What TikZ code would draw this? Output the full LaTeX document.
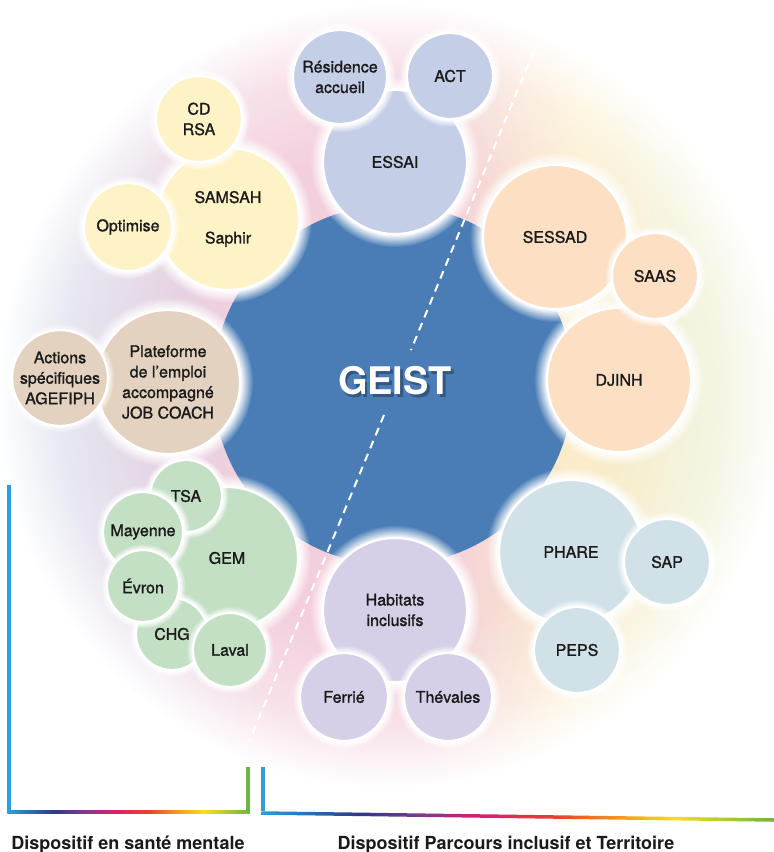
\documentclass[tikz,border=0pt]{standalone}
\usepackage{fontspec}
\setmainfont{TeX Gyre Heros}
\newfontfamily\bubblefont[FakeBold=1.2]{TeX Gyre Heros}
\usetikzlibrary{fadings}

\definecolor{geistblue}{HTML}{4A7DB6}
\definecolor{essaicol}{HTML}{C5CEE7}
\definecolor{samsahcol}{HTML}{FEF3C6}
\definecolor{emploicol}{HTML}{E3D2BF}
\definecolor{gemcol}{HTML}{C3E0C5}
\definecolor{habitatcol}{HTML}{D5CFE7}
\definecolor{sessadcol}{HTML}{FDDFC3}
\definecolor{pharecol}{HTML}{D0E1E8}
\definecolor{inkcol}{HTML}{1A1A1A}
\definecolor{hazeblue}{HTML}{CEDBEC}
\definecolor{hazepink}{HTML}{F3CEDC}
\definecolor{hazeyellow}{HTML}{FBEDC8}
\definecolor{hazegreen}{HTML}{E6EFD4}
\definecolor{barblue}{HTML}{2AA0DC}
\definecolor{barnavy}{HTML}{2E3A87}
\definecolor{barpurple}{HTML}{7B3A8C}
\definecolor{barmagenta}{HTML}{E31B6D}
\definecolor{barred}{HTML}{E8412C}
\definecolor{barorange}{HTML}{F4A21C}
\definecolor{baryellow}{HTML}{F6DF16}
\definecolor{bargreen}{HTML}{6CB446}

\pgfdeclarehorizontalshading{haze}{100bp}{color(0bp)=(hazeblue); color(25bp)=(hazeblue);
  color(42bp)=(hazepink); color(53bp)=(hazepink); color(62bp)=(hazeyellow);
  color(75bp)=(hazegreen); color(100bp)=(hazegreen)}
\pgfdeclareradialshading{hazefade}{\pgfpointorigin}{color(0bp)=(white); color(15bp)=(white);
  color(21bp)=(black!40); color(25bp)=(black); color(50bp)=(black)}
\pgfdeclarefading{hazefade}{\pgfuseshading{hazefade}}
\pgfdeclarehorizontalshading{rainbowbar}{100bp}{color(0bp)=(barblue); color(25bp)=(barblue);
  color(34.5bp)=(barnavy); color(40.5bp)=(barpurple); color(47bp)=(barmagenta);
  color(54bp)=(barred); color(60.5bp)=(barorange); color(65.5bp)=(baryellow);
  color(75bp)=(bargreen); color(100bp)=(bargreen)}

\tikzset{
  bubble/.style={
    circle,
    draw=white,
    line width=2.2pt,
    inner sep=0pt,
    align=center,
    text=inkcol,
    font=\bubblefont\fontsize{16}{20.5}\selectfont,
  },
  halo/.style={fill=white, path fading=circle with fuzzy edge 15 percent},
  divider/.style={draw=white, line width=2pt, dash pattern=on 8pt off 6pt},
  bracket/.style={line width=3.5pt},
  caption/.style={font=\bfseries\fontsize{18}{21}\selectfont, text=inkcol, anchor=base},
  geist/.style={font=\bfseries\fontsize{38}{40}\selectfont, inner sep=0pt},
}

% name, centre, radius, colour, text
\newcommand\drawbubble[5]{%
  \fill[halo] #2 circle[radius={1.18*#3}];
  \node[bubble, fill=#4, minimum size={2*#3}] (#1) at #2 {#5};
}

\begin{document}
\begin{tikzpicture}[x=1pt, y=-1pt]
  \useasboundingbox (0,0) rectangle (774,852);

  % background haze and core
  \shade[shading=haze, path fading=hazefade] (390,395) circle[radius=392];
  \node[circle, fill=geistblue, minimum size=360pt, inner sep=0pt] (core) at (393,385) {};

  % top group
  \drawbubble{essai}{(395,162)}{72}{essaicol}{ESSAI}
  \drawbubble{residence}{(340,77)}{47}{essaicol}{Résidence\\accueil}
  \drawbubble{act}{(450,76)}{43}{essaicol}{ACT}

  % upper left group
  \drawbubble{samsah}{(228,219)}{71}{samsahcol}{SAMSAH\\[20pt]Saphir}
  \drawbubble{cdrsa}{(199,119)}{43}{samsahcol}{CD\\RSA}
  \drawbubble{optimise}{(128,227)}{44}{samsahcol}{Optimise}

  % left group
  \drawbubble{emploi}{(168,382)}{72}{emploicol}{Plateforme\\de l’emploi\\accompagné\\JOB COACH}
  \drawbubble{agefiph}{(60,378)}{46}{emploicol}{Actions\\spécifiques\\AGEFIPH}

  % lower left group
  \drawbubble{gem}{(227,558)}{71}{gemcol}{GEM}
  \drawbubble{tsa}{(186,496)}{36}{gemcol}{TSA}
  \drawbubble{mayenne}{(143,532)}{40}{gemcol}{Mayenne}
  \drawbubble{chg}{(172,634)}{36}{gemcol}{CHG}
  \drawbubble{laval}{(230,650)}{37}{gemcol}{Laval}
  \drawbubble{evron}{(143,586)}{36}{gemcol}{Évron}

  % bottom group
  \drawbubble{habitats}{(395,610)}{72}{habitatcol}{Habitats\\inclusifs}
  \drawbubble{ferrie}{(344,697)}{44}{habitatcol}{Ferrié}
  \drawbubble{thevales}{(448,697)}{44}{habitatcol}{Thévales}

  % lower right group
  \drawbubble{phare}{(571,552)}{72}{pharecol}{PHARE}
  \drawbubble{sap}{(667,562)}{43}{pharecol}{SAP}
  \drawbubble{peps}{(577,650)}{43}{pharecol}{PEPS}

  % upper right group
  \drawbubble{sessad}{(555,237)}{72}{sessadcol}{SESSAD}
  \drawbubble{djinh}{(619,380)}{72}{sessadcol}{DJINH}
  \drawbubble{saas}{(655,276)}{43}{sessadcol}{SAAS}

  % dashed divider
  \coordinate (cutTop)    at (539,38);
  \coordinate (cutUpper)  at (411,350);
  \coordinate (cutLower)  at (384,415);
  \coordinate (cutBottom) at (249,742);
  \draw[divider] (cutTop)   -- (cutUpper);
  \draw[divider] (cutLower) -- (cutBottom);

  % title
  \node[geist, text=black, opacity=0.3] at (397.5,383.5) {GEIST};
  \node[geist, text=white] (geist) at (395,381) {GEIST};

  % brackets
  \coordinate (lTop)    at (9,485);
  \coordinate (lCorner) at (9,812);
  \coordinate (lEnd)    at (248,812);
  \coordinate (lTip)    at (248,767);
  \coordinate (rTip)    at (263,767);
  \coordinate (rCorner) at (263,813);
  \coordinate (rEnd)    at (774,820);

  \draw[bracket, barblue] (lTop) -- (lCorner);
  \shade[shading=rainbowbar] ([shift={(-1.75,-1.75)}]lCorner) rectangle ([shift={(1.75,1.75)}]lEnd);
  \draw[bracket, bargreen] ([shift={(0,-1.75)}]lEnd) -- (lTip);

  \draw[bracket, barblue] (rTip) -- ([shift={(0,-1.75)}]rCorner);
  \shade[shading=rainbowbar] ([shift={(-1.75,-1.75)}]rCorner) -- ([shift={(0,-1.75)}]rEnd)
    -- ([shift={(0,1.75)}]rEnd) -- ([shift={(-1.75,1.75)}]rCorner) -- cycle;

  \node[caption] (mentalcap)   at (128,849) {Dispositif en santé mentale};
  \node[caption] (parcourscap) at (506,849) {Dispositif Parcours inclusif et Territoire};
\end{tikzpicture}
\end{document}
